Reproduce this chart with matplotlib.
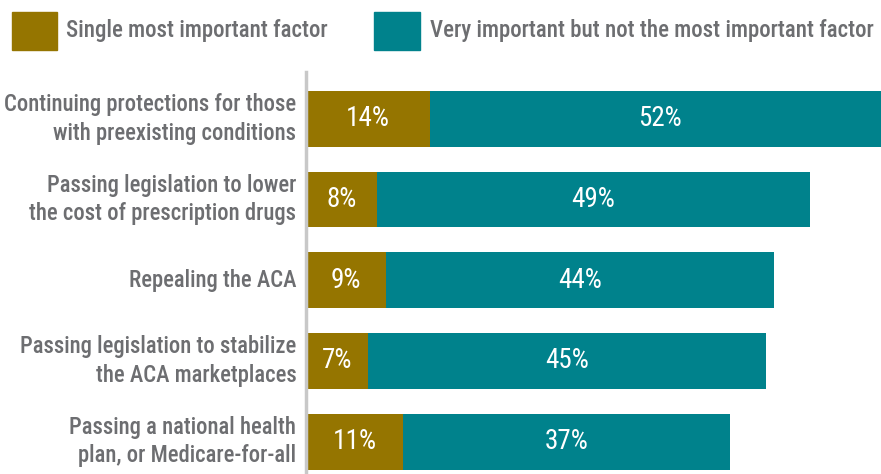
import matplotlib.pyplot as plt
from matplotlib.patches import Rectangle

categories = ["Continuing protections for those\nwith preexisting conditions",
              "Passing legislation to lower\nthe cost of prescription drugs",
              "Repealing the ACA",
              "Passing legislation to stabilize\nthe ACA marketplaces",
              "Passing a national health\nplan, or Medicare-for-all"]
single = [14, 8, 9, 7, 11]
very = [52, 49, 44, 45, 37]
legend_labels = ["Single most important factor",
                 "Very important but not the most important factor"]

gold = "#957500"
teal = "#00828c"
grey = "#6d6e71"

plt.rcParams['font.family'] = ['Roboto Condensed', 'Liberation Sans Narrow', 'DejaVu Sans']

fig = plt.figure(figsize=(8.81, 4.74), dpi=100)
ax = fig.add_axes([306/881, 0, 575/881, 402/474])

ypos = list(range(len(categories)))
ax.barh(ypos, single, height=0.69, color=gold)
ax.barh(ypos, very, left=single, height=0.69, color=teal)

for i in ypos:
    ax.text(single[i]/2, i, f"{single[i]}%", ha='center', va='center',
            color='white', fontsize=19.5)
    ax.text(single[i] + very[i]/2, i, f"{very[i]}%", ha='center', va='center',
            color='white', fontsize=19.5)
    ax.text(-1.1, i, categories[i], ha='right', va='center', color=grey,
            fontsize=16.3, fontweight='medium', linespacing=1.3)

ax.set_xlim(0, 65.05)
ax.set_ylim(4.40, -0.58)
ax.set_xticks([])
ax.set_yticks([])
for s in ['top', 'right', 'bottom']:
    ax.spines[s].set_visible(False)
ax.spines['left'].set_color('#c8c8c8')
ax.spines['left'].set_linewidth(2.5)

# legend
fig.patches.append(Rectangle((12/881, 1 - 50/474), 45/881, 38/474,
                             transform=fig.transFigure, color=gold))
fig.text(66/881, 1 - 31/474, legend_labels[0], color=grey, fontsize=16.5,
         fontweight='medium', va='center')
fig.patches.append(Rectangle((374/881, 1 - 50/474), 46/881, 38/474,
                             transform=fig.transFigure, color=teal))
fig.text(430/881, 1 - 31/474, legend_labels[1], color=grey, fontsize=16.5,
         fontweight='medium', va='center')

fig.savefig("out.png", dpi=100)
